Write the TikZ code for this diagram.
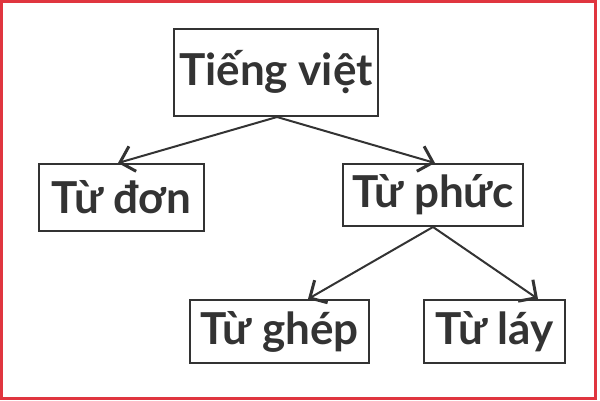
\documentclass[tikz,border=0pt]{standalone}
\usepackage{fontspec}
\setmainfont{Lato}
\usetikzlibrary{arrows.meta}
\definecolor{ink}{HTML}{333333}
\definecolor{frame}{HTML}{E0353F}
\tikzset{
  box/.style={draw=ink, line width=2pt, text=ink, inner sep=0pt, align=center,
    font=\fontsize{44}{44}\selectfont\bfseries},
  link/.style={draw=ink, line width=2pt, -{Straight Barb[length=13pt,width=26pt,line width=3pt]}}
}
\begin{document}
\begin{tikzpicture}[x=1pt,y=-1pt]
\useasboundingbox (0,0) rectangle (600,401);
\draw[frame, line width=2.6pt] (1.3,1.3) rectangle (595.5,398.5);
\node[box, minimum width=204pt, minimum height=87pt] (tv) at (276,72.5) {Tiếng việt};
\node[box, minimum width=165pt, minimum height=67pt] (don) at (121.5,197.5) {Từ đơn};
\node[box, minimum width=180pt, minimum height=62pt] (phuc) at (433,195) {Từ phức};
\node[box, minimum width=179pt, minimum height=63pt] (ghep) at (279.5,331.5) {Từ ghép};
\node[box, minimum width=141pt, minimum height=63pt] (lay) at (494.5,331.5) {Từ láy};
\draw[link] ([xshift=1pt]tv.south) -- ([xshift=-3.5pt]don.north);
\draw[link] ([xshift=1pt]tv.south) -- ([xshift=2pt]phuc.north);
\draw[link] (phuc.south) -- ([xshift=28.5pt]ghep.north);
\draw[link] (phuc.south) -- ([xshift=43.5pt]lay.north);
\end{tikzpicture}
\end{document}
